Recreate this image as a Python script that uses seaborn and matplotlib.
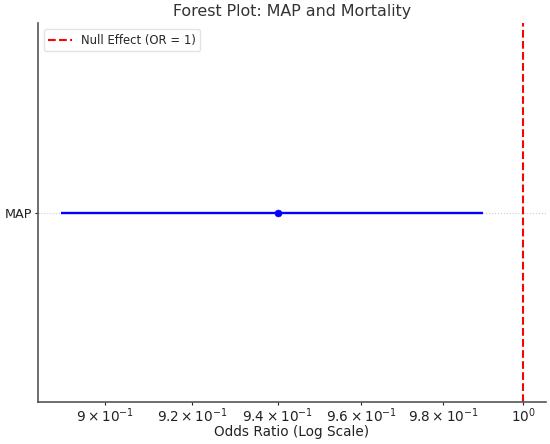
import pandas as pd
import seaborn as sns
import matplotlib.pyplot as plt

variables = ["MAP"]
odds_ratios = [0.94]
ci_lower = [0.89]
ci_upper = [0.99]
null_value = 1.0

df = pd.DataFrame({"Variable": variables, "OR": odds_ratios,
                   "Lower": ci_lower, "Upper": ci_upper})
df["pos"] = range(len(df))

sns.set_style("ticks")
plt.rcParams["font.family"] = ["DejaVu Sans"]

fig = plt.figure(figsize=(5.5, 4.44), dpi=100)
ax = fig.add_axes([0.0685, 0.0946, 0.9245, 0.8534])

ax.hlines(df["pos"], df["Lower"], df["Upper"], color="blue", linewidth=1.7, zorder=2)
sns.scatterplot(data=df, x="OR", y="pos", color="blue", s=25, edgecolor="blue",
                ax=ax, zorder=3, legend=False)
ax.axvline(null_value, color="red", linestyle="--", linewidth=1.5, label="Null Effect (OR = 1)")

ax.set_xscale("log")
ax.set_ylim(-1, 1)
ax.set_yticks(df["pos"])
ax.set_yticklabels(df["Variable"])
ax.grid(axis="y", linestyle=":", color="#cccccc", linewidth=0.8)
ax.grid(axis="x", visible=False)
ax.grid(axis="x", which="minor", visible=False)

ax.set_title("Forest Plot: MAP and Mortality", fontsize=11.4, color="#333333", pad=5)
ax.set_xlabel("Odds Ratio (Log Scale)", fontsize=9.8, color="#222222", labelpad=0.5)
ax.set_ylabel("")
ax.tick_params(axis="x", which="both", labelsize=9.8, colors="#222222",
               length=2, width=0.8, pad=1)
ax.tick_params(axis="y", labelsize=9.2, colors="#222222", length=2, width=0.8, pad=2)
for side in ["left", "bottom"]:
    ax.spines[side].set_color("#555555")
    ax.spines[side].set_linewidth(1.2)
sns.despine(ax=ax)

ax.legend(loc="upper left", fontsize=8.4, frameon=True, edgecolor="#dddddd")

fig.savefig("out.png", dpi=100)
